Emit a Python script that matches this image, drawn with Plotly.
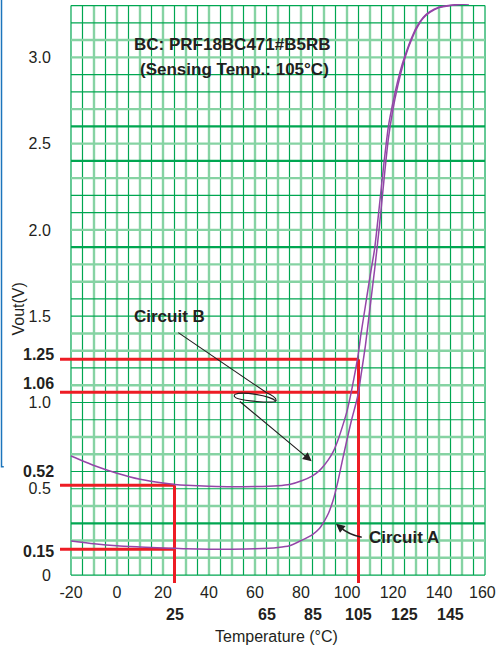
import plotly.graph_objects as go
import numpy as np

# ---------------- data ----------------
temp_b = [-20, -10, 0, 10, 20, 25, 30, 40, 50, 60, 70, 75, 80, 85, 88, 90, 92, 94, 96, 98,
          100, 102, 104, 105, 106, 108, 110, 112, 114, 116, 118, 120, 122, 124, 126, 128,
          130, 133, 136, 140, 145, 150, 153]
vout_b = [0.69, 0.635, 0.59, 0.555, 0.533, 0.525, 0.52, 0.515, 0.512, 0.513, 0.518, 0.525,
          0.545, 0.575, 0.605, 0.635, 0.67, 0.715, 0.78, 0.86, 0.95, 1.07, 1.21, 1.29, 1.39,
          1.56, 1.73, 1.89, 2.13, 2.38, 2.60, 2.74, 2.86, 2.96, 3.04, 3.11, 3.17, 3.23,
          3.265, 3.29, 3.302, 3.308, 3.31]

temp_a = [-20, -10, 0, 10, 20, 25, 30, 40, 50, 60, 70, 75, 80, 85, 88, 90, 92, 94, 96, 98,
          100, 102, 104, 105, 106, 108, 110, 112, 114, 116, 118, 120, 122, 124, 126, 128,
          130, 133, 136, 140, 145, 150, 153]
vout_a = [0.198, 0.182, 0.17, 0.163, 0.157, 0.155, 0.152, 0.15, 0.15, 0.152, 0.16, 0.17,
          0.2, 0.235, 0.27, 0.31, 0.36, 0.435, 0.54, 0.665, 0.785, 0.9, 1.0, 1.06, 1.15,
          1.33, 1.55, 1.77, 2.01, 2.28, 2.53, 2.70, 2.83, 2.94, 3.03, 3.10, 3.16, 3.225,
          3.26, 3.288, 3.30, 3.307, 3.31]

x_ticks = [-20, 0, 20, 40, 60, 80, 100, 120, 140, 160]
y_ticks = [0, 0.5, 1.0, 1.5, 2.0, 2.5, 3.0]
y_tick_text = ["0", "0.5", "1.0", "1.5", "2.0", "2.5", "3.0"]

# reference markers (temperature, voltage)
ref_temp_low = 25
ref_v_low = [0.52, 0.15]
ref_temp_high = 105
ref_v_high = [1.25, 1.06]
bold_x_labels = [25, 65, 85, 105, 125, 145]
bold_y_labels = ["1.25", "1.06", "0.52", "0.15"]

# grid extents
grid_t = (-20, 160)
grid_v = (0.0, 3.3)

# ---------------- style ----------------
FONT = "Liberation Sans, Arial, Helvetica, sans-serif"
TXT = "#231f20"
DARK = "#00a651"
LIGHT = "#86d3a3"
RED = "#ed1c24"
PURPLE = "#9445a8"

X_RANGE = [-24.78, 160.43]
Y_RANGE = [-0.046, 3.309]

# horizontal grid line styles, one per 0.1 V step (D dark, L light, T thick dark)
h_styles = "DLLTLDDLLDDLDLLDDLLTLDDLTLTLDDLLDD"

fig = go.Figure()

fig.add_trace(go.Scatter(x=temp_a, y=vout_a, mode="lines", name="Circuit A",
                         line=dict(color=PURPLE, width=1.5, shape="spline", smoothing=0.6),
                         showlegend=False, hoverinfo="skip"))
fig.add_trace(go.Scatter(x=temp_b, y=vout_b, mode="lines", name="Circuit B",
                         line=dict(color=PURPLE, width=1.5, shape="spline", smoothing=0.6),
                         showlegend=False, hoverinfo="skip"))

shapes = []
# vertical grid
for t in np.arange(grid_t[0], grid_t[1] + 1, 5):
    border = t in grid_t
    light = (t % 10 == 0) and not border
    shapes.append(dict(type="line", xref="x", yref="y", x0=t, x1=t, y0=grid_v[0], y1=grid_v[1],
                       layer="below",
                       line=dict(color=LIGHT if light else DARK, width=2.4 if light else 1.2)))
# horizontal grid
for i, v in enumerate(np.round(np.arange(grid_v[0], grid_v[1] + 0.05, 0.1), 2)):
    s = h_styles[i]
    col = LIGHT if s == "L" else DARK
    w = 2.4 if s == "L" else (2.2 if s == "T" else 1.2)
    shapes.append(dict(type="line", xref="x", yref="y", x0=grid_t[0], x1=grid_t[1], y0=v, y1=v,
                       layer="below", line=dict(color=col, width=w)))

# red reference lines
for v in ref_v_low:
    shapes.append(dict(type="line", xref="x", yref="y", x0=X_RANGE[0], x1=ref_temp_low, y0=v, y1=v,
                       layer="below", line=dict(color=RED, width=3)))
shapes.append(dict(type="line", xref="x", yref="y", x0=ref_temp_low, x1=ref_temp_low,
                   y0=max(ref_v_low), y1=Y_RANGE[0], layer="below", line=dict(color=RED, width=3)))
for v in ref_v_high:
    shapes.append(dict(type="line", xref="x", yref="y", x0=X_RANGE[0], x1=ref_temp_high, y0=v, y1=v,
                       layer="below", line=dict(color=RED, width=3)))
shapes.append(dict(type="line", xref="x", yref="y", x0=ref_temp_high, x1=ref_temp_high,
                   y0=max(ref_v_high), y1=Y_RANGE[0], layer="below", line=dict(color=RED, width=3)))

# leader for Circuit B: incoming line + small loop
shapes.append(dict(type="path", xref="x", yref="y", layer="above",
                   path="M 26.65,1.405 L 65.07,1.056 Q 69.6,1.03 69.13,1.008",
                   line=dict(color=TXT, width=1.1)))
shapes.append(dict(type="path", xref="x", yref="y", layer="above",
                   path="M 69.13,1.008 C 66.52,1.041 54.20,1.066 51.30,1.047 "
                        "C 49.86,1.027 53.48,1.012 60.73,1.006 Q 67.97,0.998 69.13,1.008",
                   line=dict(color=TXT, width=1.1)))
# leader for Circuit A: curved shaft
shapes.append(dict(type="path", xref="x", yref="y", layer="above",
                   path="M 106.4,0.219 Q 100.5,0.236 97.0,0.278",
                   line=dict(color=TXT, width=1.6)))
# page edge artifact (blue rule at left)
shapes.append(dict(type="path", xref="paper", yref="paper",
                   path="M -0.1373,1.01 L -0.1373,0.2007 L -0.132,0.2007",
                   line=dict(color="#1c75bc", width=1.5)))

annotations = []
# title
annotations.append(dict(text="<b>BC: PRF18BC471#B5RB</b>", xref="paper", yref="paper",
                        x=0.406, y=0.9296, showarrow=False, xanchor="center", yanchor="middle",
                        font=dict(family=FONT, size=17, color=TXT)))
annotations.append(dict(text="<b>(Sensing Temp.: 105°C)</b>", xref="paper", yref="paper",
                        x=0.4085, y=0.8875, showarrow=False, xanchor="center", yanchor="middle",
                        font=dict(family=FONT, size=17, color=TXT)))
# circuit labels
annotations.append(dict(text="<b>Circuit B</b>", xref="x", yref="y", x=22.7, y=1.50,
                        showarrow=False, font=dict(family=FONT, size=17, color=TXT)))
annotations.append(dict(text="<b>Circuit A</b>", xref="x", yref="y", x=124.8, y=0.215,
                        showarrow=False, font=dict(family=FONT, size=17, color=TXT)))
# arrows
annotations.append(dict(text="", xref="x", yref="y", axref="x", ayref="y",
                        x=84.64, y=0.659, ax=52.75, ay=1.013, showarrow=True,
                        arrowhead=2, arrowsize=1.6, arrowwidth=1.1, arrowcolor=TXT))
annotations.append(dict(text="", xref="x", yref="y", axref="x", ayref="y",
                        x=95.2, y=0.297, ax=97.4, ay=0.273, showarrow=True,
                        arrowhead=2, arrowsize=1.1, arrowwidth=1.6, arrowcolor=TXT))
# bold y labels
y_shift = {"1.25": 5, "1.06": 9, "0.52": 14, "0.15": -2}
for lab in bold_y_labels:
    annotations.append(dict(text="<b>%s</b>" % lab, xref="paper", yref="y", x=-0.0094,
                            y=float(lab), yshift=y_shift[lab], xanchor="right", yanchor="middle",
                            showarrow=False, font=dict(family=FONT, size=16, color=TXT)))
# bold x labels
for t in bold_x_labels:
    annotations.append(dict(text="<b>%d</b>" % t, xref="x", yref="paper", x=t, y=-0.0536,
                            xanchor="center", yanchor="middle", showarrow=False,
                            font=dict(family=FONT, size=16, color=TXT)))
# last x tick label placed flush with the right page edge (avoids page overflow)
last_tick = x_ticks[-1]
annotations.append(dict(text=str(last_tick), xref="paper", yref="paper", x=(496.5 - 60) / 426,
                        y=-0.0156, xanchor="right", yanchor="middle", showarrow=False,
                        borderpad=0, font=dict(family=FONT, size=16, color=TXT)))
# axis titles
annotations.append(dict(text="Temperature (°C)", xref="paper", yref="paper", x=0.5087, y=-0.0929,
                        xanchor="center", yanchor="middle", showarrow=False,
                        font=dict(family=FONT, size=16, color=TXT)))
annotations.append(dict(text="Vout(V)", xref="paper", yref="paper", x=-0.0962, y=0.4723,
                        xanchor="center", yanchor="middle", textangle=-90, showarrow=False,
                        font=dict(family=FONT, size=16, color=TXT)))

fig.update_layout(
    width=497, height=645,
    margin=dict(l=60, r=11, t=4, b=62, pad=0),
    paper_bgcolor="white", plot_bgcolor="white",
    shapes=shapes, annotations=annotations,
    showlegend=False,
    font=dict(family=FONT, size=16, color=TXT),
    xaxis=dict(range=X_RANGE, tickvals=x_ticks[:-1], ticktext=[str(v) for v in x_ticks[:-1]],
               showgrid=False, zeroline=False, showline=False,
               ticks="", ticklabelstandoff=-2,
               tickfont=dict(family=FONT, size=16, color=TXT), fixedrange=True),
    yaxis=dict(range=Y_RANGE, tickvals=y_ticks, ticktext=y_tick_text,
               showgrid=False, zeroline=False, showline=False,
               ticks="outside", ticklen=5, tickcolor="rgba(0,0,0,0)",
               tickfont=dict(family=FONT, size=16, color=TXT), fixedrange=True),
)

fig.write_html("out.html", config={"displayModeBar": False},
               post_script="document.body.style.margin='0';document.body.style.padding='0';"
                           "document.documentElement.style.overflow='hidden';")
